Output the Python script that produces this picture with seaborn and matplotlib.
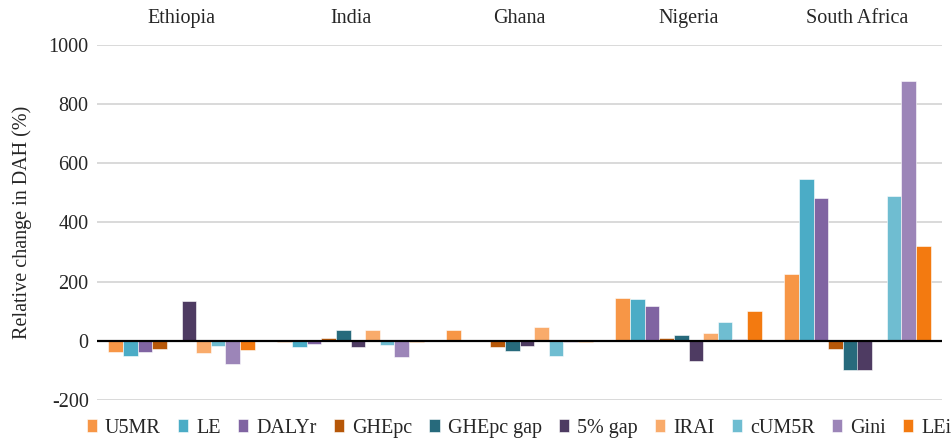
import matplotlib
matplotlib.use("Agg")
import matplotlib.pyplot as plt
import seaborn as sns
import pandas as pd

countries = ["Ethiopia", "India", "Ghana", "Nigeria", "South Africa"]
indicators = ["U5MR", "LE", "DALYr", "GHEpc", "GHEpc gap", "5% gap",
              "IRAI", "cUM5R", "Gini", "LEi"]

u5mr = [-37, -5, 35, 144, 224]
le = [-51, -22, 0, 141, 547]
dalyr = [-37, -12, 0, 118, 481]
ghepc = [-27, 9, -22, 9, -27]
ghepc_gap = [0, 35, -34, 21, -100]
gap5 = [135, -22, -17, -69, -100]
irai = [-40, 35, 46, 26, 0]
cum5r = [-16, -13, -53, 62, 489]
gini = [-77, -55, -5, 7, 877]
lei = [-30, -5, -5, 100, 320]

series = [u5mr, le, dalyr, ghepc, ghepc_gap, gap5, irai, cum5r, gini, lei]
colors = ["#F79646", "#4BACC6", "#8064A2", "#B65708", "#276A7C",
          "#4E3B62", "#F9AB6B", "#6FBDD1", "#9C85B8", "#F37A10"]

rows = []
for ind, vals in zip(indicators, series):
    for c, v in zip(countries, vals):
        rows.append({"Country": c, "Indicator": ind, "Value": v})
df = pd.DataFrame(rows)

sns.set_theme(style="white")
plt.rcParams["font.family"] = ["Liberation Serif", "DejaVu Serif"]
plt.rcParams["axes.unicode_minus"] = False

fig = plt.figure(figsize=(9.53, 4.38), dpi=100)
ax = fig.add_axes([97 / 953, 1 - 400 / 438, (942 - 97) / 953, (400 - 44.7) / 438])

sns.barplot(data=df, x="Country", y="Value", hue="Indicator",
            order=countries, hue_order=indicators, palette=colors,
            width=0.864, ax=ax, edgecolor="white", linewidth=0.4,
            errorbar=None, saturation=1)

ax.set_ylim(-200, 1000)
ax.set_yticks(range(-200, 1001, 200))
ax.yaxis.grid(True, color="#D9D9D9", linewidth=1.4)
ax.set_axisbelow(True)
ax.axhline(0, color="black", linewidth=1.6, zorder=5)
for s in ax.spines.values():
    s.set_visible(False)

ax.xaxis.tick_top()
ax.set_xlabel("")
ax.tick_params(axis="x", length=0, pad=12, labelsize=14.5)
ax.tick_params(axis="y", length=0, pad=6, labelsize=14.5)
ax.set_ylabel("Relative change in DAH (%)", fontsize=14.5, labelpad=12)

handles, labels = ax.get_legend_handles_labels()
ax.legend(handles, labels, loc="center", bbox_to_anchor=(0.4995, -0.079),
          ncol=10, frameon=False, fontsize=14.5, handlelength=0.5,
          handleheight=0.55, handletextpad=0.4, columnspacing=0.86,
          borderaxespad=0, borderpad=0)

fig.savefig("out.png", dpi=100)
